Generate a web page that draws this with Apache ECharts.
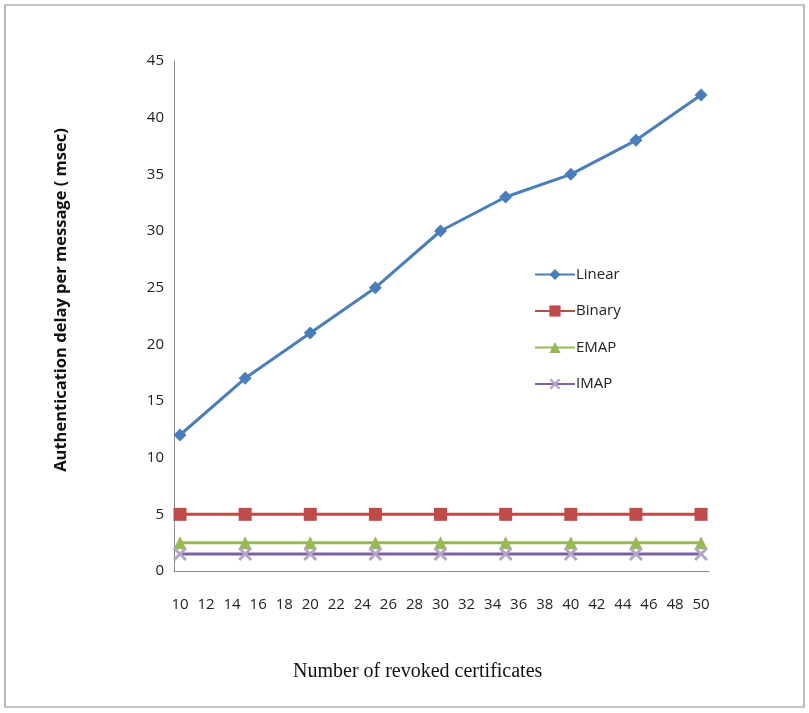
<!DOCTYPE html>
<html><head><meta charset="utf-8">
<script src="https://cdn.jsdelivr.net/npm/echarts@6/dist/echarts.min.js"></script>
<style>html,body{margin:0;padding:0;background:#fff}#c{width:809px;height:713px}</style>
</head><body><div id="c"></div>
<script>
const xValues = [10, 15, 20, 25, 30, 35, 40, 45, 50];
const xTickLabels = [10,12,14,16,18,20,22,24,26,28,30,32,34,36,38,40,42,44,46,48,50];
const linear = [12, 17, 21, 25, 30, 33, 35, 38, 42];
const binary = [5, 5, 5, 5, 5, 5, 5, 5, 5];
const emap = [2.5, 2.5, 2.5, 2.5, 2.5, 2.5, 2.5, 2.5, 2.5];
const imap = [1.5, 1.5, 1.5, 1.5, 1.5, 1.5, 1.5, 1.5, 1.5];
const seriesNames = ['Linear', 'Binary', 'EMAP', 'IMAP'];

const pair = arr => xValues.map((x, i) => [x, arr[i]]);
const xSym = 'path://M0,0.15L0.15,0L0.5,0.35L0.85,0L1,0.15L0.65,0.5L1,0.85L0.85,1L0.5,0.65L0.15,1L0,0.85L0.35,0.5Z';
const font = '"Open Sans", "Noto Sans", sans-serif';

const chart = echarts.init(document.getElementById('c'));
chart.setOption({
  animation: false,
  backgroundColor: '#fff',
  graphic: [{
    type: 'rect', shape: {x: 5, y: 5, width: 799, height: 702},
    style: {fill: 'none', stroke: '#8c8c8c', lineWidth: 1.2}, silent: true
  }],
  title: {
    text: 'Number of revoked certificates',
    left: 288, top: 657,
    textStyle: {fontFamily: '"Liberation Serif", "Times New Roman", serif', fontSize: 20, fontWeight: 'normal', color: '#111'}
  },
  grid: {left: 174, right: 100, top: 61, bottom: 142, containLabel: false},
  xAxis: {
    type: 'value', min: 9.54, max: 50.61,
    axisLine: {show: true, lineStyle: {color: '#8a8a8a', width: 1}},
    axisTick: {show: false},
    splitLine: {show: false},
    axisLabel: {customValues: xTickLabels, color: '#222', fontSize: 15, fontFamily: font, margin: 26}
  },
  yAxis: {
    type: 'value', min: 0, max: 45, interval: 5,
    name: 'Authentication delay per message ( msec)',
    nameLocation: 'middle', nameGap: 104,
    nameTextStyle: {fontFamily: font, fontSize: 16.5, fontWeight: 'bold', color: '#111', padding: [0, 0, 0, 32]},
    axisLine: {show: true, lineStyle: {color: '#8a8a8a', width: 1}},
    axisTick: {show: false},
    splitLine: {show: false},
    axisLabel: {color: '#222', fontSize: 15, fontFamily: font, margin: 10}
  },
  legend: {
    orient: 'vertical', left: 529, top: 262,
    itemWidth: 40, itemHeight: 14, itemGap: 21.5,
    textStyle: {fontFamily: font, fontSize: 15, color: '#222', padding: [0, 0, 0, -4]},
    data: seriesNames
  },
  series: [
    {name: 'Linear', type: 'line', data: pair(linear), symbol: 'diamond', symbolSize: 13,
     lineStyle: {color: '#4a7ebb', width: 3}, itemStyle: {color: '#4a7ebb'}},
    {name: 'Binary', type: 'line', data: pair(binary), symbol: 'rect', symbolSize: 13,
     lineStyle: {color: '#be4b48', width: 3}, itemStyle: {color: '#be4b48'}},
    {name: 'EMAP', type: 'line', data: pair(emap), symbol: 'triangle', symbolSize: 13,
     lineStyle: {color: '#98b954', width: 3}, itemStyle: {color: '#98b954'}},
    {name: 'IMAP', type: 'line', data: pair(imap), symbol: xSym, symbolSize: 14,
     lineStyle: {color: '#7d60a0', width: 3}, itemStyle: {color: '#b3a6c8'}}
  ]
});
</script></body></html>
